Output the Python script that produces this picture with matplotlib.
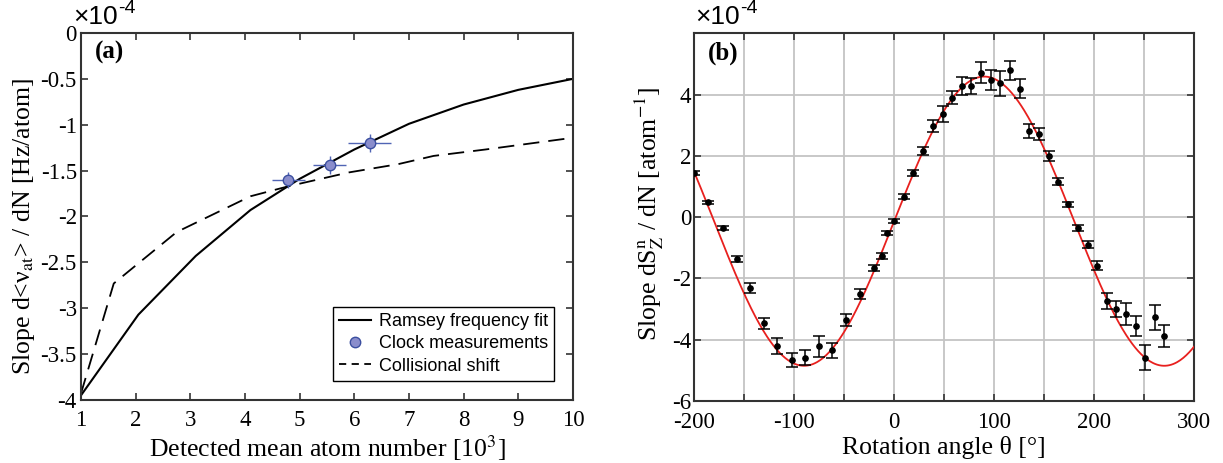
import numpy as np
import matplotlib
matplotlib.use("Agg")
import matplotlib.pyplot as plt
from matplotlib.lines import Line2D

plt.rcParams['font.family'] = ['Liberation Serif', 'DejaVu Serif']
plt.rcParams['mathtext.fontset'] = 'stix'
plt.rcParams['axes.unicode_minus'] = False

# ---- panel (a) data, units of 1e-4 Hz/atom, N in 1e3 atoms ----
ramsey_N = [1, 2.05, 3.1, 4.1, 5.0, 6.0, 7.0, 8.0, 9.0, 10.0]
ramsey_slope = [-3.95, -3.07, -2.43, -1.93, -1.59, -1.27, -0.99, -0.78, -0.62, -0.50]

coll_N = [1, 1.6, 2.75, 4.1, 4.8, 5.9, 6.8, 7.45, 8.4, 9.9]
coll_slope = [-3.93, -2.73, -2.17, -1.78, -1.67, -1.52, -1.43, -1.34, -1.27, -1.15]

clock_N = [4.79, 5.55, 6.28]
clock_slope = [-1.60, -1.44, -1.20]
clock_Nerr = [0.30, 0.30, 0.40]
clock_err = [0.09, 0.10, 0.10]

# ---- panel (b) data, units of 1e-4 atom^-1 ----
theta = [-200, -185.7, -171.3, -157.3, -144, -130, -116.7, -102.3, -89, -75,
         -61.7, -48, -34, -20, -12.3, -7.4, 0.2, 10.2, 19.2, 29.2,
         38.6, 48.6, 57.9, 67.6, 77.3, 87, 96.6, 105.9, 115.9, 125.9,
         135.2, 145.2, 154.9, 164.2, 174.2, 184.2, 193.6, 202.6, 212.6, 221.9,
         231.9, 241.6, 250.9, 260.9, 270.2]
dSz = [1.45, 0.48, -0.36, -1.37, -2.32, -3.46, -4.20, -4.65, -4.58, -4.22,
       -4.35, -3.35, -2.51, -1.66, -1.26, -0.52, -0.12, 0.67, 1.43, 2.16,
       2.98, 3.36, 3.90, 4.28, 4.29, 4.72, 4.48, 4.37, 4.80, 4.20,
       2.81, 2.72, 2.00, 1.16, 0.42, -0.34, -0.90, -1.58, -2.73, -2.99,
       -3.16, -3.54, -4.58, -3.27, -3.89]
dSz_err = [0.07, 0.06, 0.06, 0.09, 0.16, 0.18, 0.27, 0.23, 0.25, 0.34,
           0.23, 0.20, 0.15, 0.09, 0.09, 0.07, 0.07, 0.08, 0.10, 0.12,
           0.19, 0.26, 0.22, 0.30, 0.26, 0.34, 0.33, 0.40, 0.31, 0.32,
           0.24, 0.19, 0.17, 0.12, 0.09, 0.10, 0.12, 0.15, 0.26, 0.27,
           0.35, 0.33, 0.40, 0.42, 0.36]

# sinusoidal fit
fit_amp = 4.72
fit_offset = -0.13
fit_phase = 0.0

spine_col = '#333333'


def style_axes(ax):
    for s in ax.spines.values():
        s.set_color(spine_col)
        s.set_linewidth(1.5)
    ax.tick_params(direction='in', top=True, right=True, length=5,
                   width=1.2, color=spine_col, labelsize=16.5)


def offset_label(ax, x):
    # the "x10^-4" multiplier above the y axis, sans serif like the original
    t = ax.text(x, 1.012, '×10', transform=ax.transAxes, fontsize=19,
                family='Liberation Sans', va='bottom', ha='left')
    ax.annotate('-4', xy=(1.0, 0.5), xycoords=t, fontsize=14,
                family='Liberation Sans', va='bottom', ha='left')


fig = plt.figure(figsize=(12.23, 4.63), dpi=100)

# ---------------- (a) ----------------
ax1 = fig.add_axes([0.0662, 0.1361, 0.4023, 0.7927])
ax1.plot(ramsey_N, ramsey_slope, color='black', lw=1.5)
ax1.plot(coll_N, coll_slope, color='black', lw=1.3, dashes=(9, 5))
ax1.errorbar(clock_N, clock_slope, xerr=clock_Nerr, yerr=clock_err, fmt='o',
             ms=7.5, mfc='#8a8dcc', mec='#3b4fa0', mew=1.0,
             ecolor='#5064b4', elinewidth=1.0, capsize=0, zorder=5)
ax1.set_xlim(1, 10)
ax1.set_ylim(-4, 0)
ax1.set_xticks(range(1, 11))
ax1.set_yticks(np.arange(-4, 0.01, 0.5))
ax1.set_yticklabels(['-4', '-3.5', '-3', '-2.5', '-2', '-1.5', '-1', '-0.5', '0'])
style_axes(ax1)
ax1.tick_params(axis='y', pad=3)
ax1.tick_params(axis='x', pad=7)
ax1.set_xlabel('Detected mean atom number [10$^3$]', fontsize=18.5, labelpad=2)
ax1.set_ylabel(r'Slope d<ν$_{\rm at}$> / dN [Hz/atom]', fontsize=18.5)
ax1.yaxis.set_label_coords(-0.089, 0.473)
ax1.text(0.028, 0.978, '(a)', transform=ax1.transAxes, fontsize=18,
         fontweight='bold', va='top', ha='left')
offset_label(ax1, -0.016)

handles = [Line2D([], [], color='black', lw=1.5),
           Line2D([], [], ls='none', marker='o', ms=7.5, mfc='#8a8dcc', mec='#3b4fa0'),
           Line2D([], [], color='black', lw=1.3, dashes=(4, 3))]
leg = ax1.legend(handles, ['Ramsey frequency fit', 'Clock measurements', 'Collisional shift'],
                 loc='lower right', prop={'family': 'Liberation Sans', 'size': 13},
                 fancybox=False, framealpha=1, edgecolor='black', borderaxespad=1.05,
                 handlelength=1.8, handletextpad=0.4, labelspacing=0.3, borderpad=0.35)
leg.get_frame().set_linewidth(1.0)

# ---------------- (b) ----------------
ax2 = fig.add_axes([0.5675, 0.1339, 0.409, 0.794])
th_fit = np.linspace(-200, 300, 501)
ax2.plot(th_fit, fit_offset + fit_amp * np.sin(np.radians(th_fit - fit_phase)),
         color='#e8201e', lw=1.3, zorder=3)
ax2.errorbar(theta, dSz, yerr=dSz_err, fmt='o', ms=3.8, color='black',
             ecolor='black', elinewidth=1.1, capsize=4, capthick=1.1, zorder=4)
ax2.set_xlim(-200, 300)
ax2.set_ylim(-6, 6)
xt = list(range(-200, 301, 50))
ax2.set_xticks(xt)
ax2.set_xticklabels([str(v) if v % 100 == 0 else '' for v in xt])
ax2.set_yticks([-6, -4, -2, 0, 2, 4])
ax2.set_yticklabels(['-6', '-4', '-2', '0', '2', '4'])
ax2.grid(True, color='#c4c4c4', lw=1.3)
ax2.set_axisbelow(True)
style_axes(ax2)
ax2.tick_params(axis='y', pad=2)
ax2.tick_params(axis='x', pad=8)
ax2.set_xlabel('Rotation angle θ [°]', fontsize=18.5, labelpad=2)
ax2.set_ylabel(r'Slope dS$_{\rm Z}^{\rm n}$ / dN [atom$^{-1}$]', fontsize=18.5)
ax2.yaxis.set_label_coords(-0.056, 0.51)
ax2.text(0.028, 0.978, '(b)', transform=ax2.transAxes, fontsize=18,
         fontweight='bold', va='top', ha='left')
offset_label(ax2, 0.002)

fig.savefig('out.png', dpi=100)
